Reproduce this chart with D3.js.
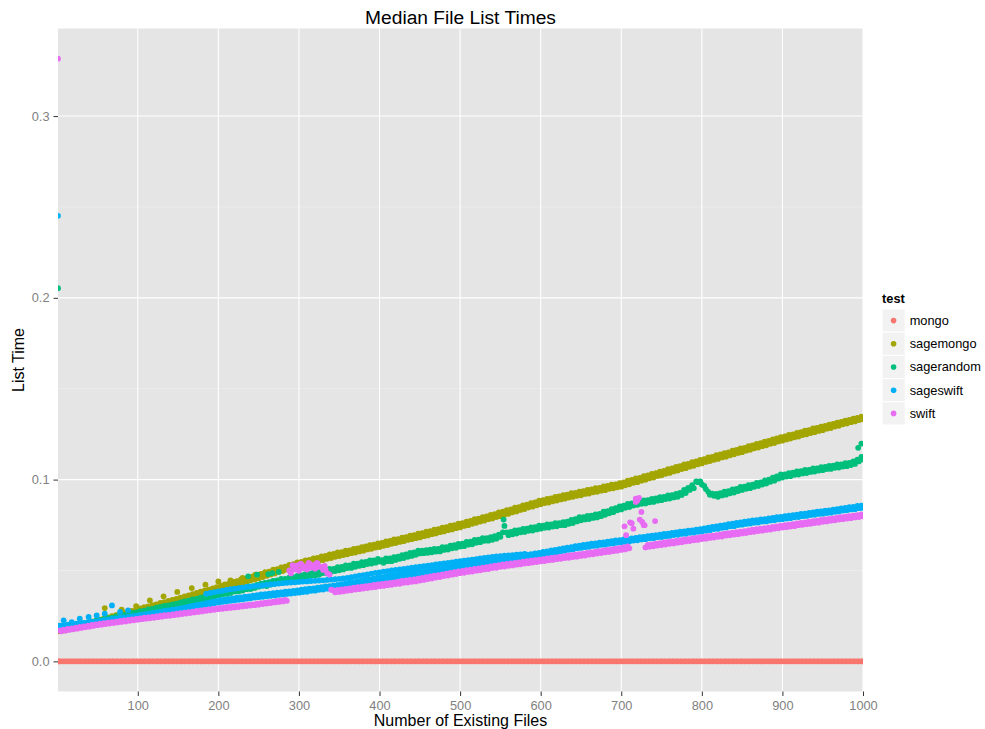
<!DOCTYPE html>
<html>
<head>
<meta charset="utf-8">
<script src="https://cdn.jsdelivr.net/npm/d3@7"></script>
<style>
  body { margin: 0; background: #ffffff; }
  svg { display: block; font-family: "Liberation Sans", Arial, Helvetica, sans-serif; }
</style>
</head>
<body>
<svg id="chart" width="985" height="729"></svg>
<script>
// Number of existing files at which the listing time was measured
const fileCounts = [1,
  5,10,15,20,25,30,35,40,45,50, 55,60,65,70,75,80,85,90,95,100,
  105,110,115,120,125,130,135,140,145,150, 155,160,165,170,175,180,185,190,195,200,
  205,210,215,220,225,230,235,240,245,250, 255,260,265,270,275,280,285,290,295,300,
  305,310,315,320,325,330,335,340,345,350, 355,360,365,370,375,380,385,390,395,400,
  405,410,415,420,425,430,435,440,445,450, 455,460,465,470,475,480,485,490,495,500,
  505,510,515,520,525,530,535,540,545,550, 555,560,565,570,575,580,585,590,595,600,
  605,610,615,620,625,630,635,640,645,650, 655,660,665,670,675,680,685,690,695,700,
  705,710,715,720,725,730,735,740,745,750, 755,760,765,770,775,780,785,790,795,800,
  805,810,815,820,825,830,835,840,845,850, 855,860,865,870,875,880,885,890,895,900,
  905,910,915,920,925,930,935,940,945,950, 955,960,965,970,975,980,985,990,995,1000];

// In-between file counts measured in a second pass
const midFileCounts = [
  3,8,13,18,23,28,33,38,43,48, 53,58,63,68,73,78,83,88,93,98,
  103,108,113,118,123,128,133,138,143,148, 153,158,163,168,173,178,183,188,193,198,
  203,208,213,218,223,228,233,238,243,248, 253,258,263,268,273,278,283,288,293,298,
  303,308,313,318,323,328,333,338,343,348, 353,358,363,368,373,378,383,388,393,398,
  403,408,413,418,423,428,433,438,443,448, 453,458,463,468,473,478,483,488,493,498,
  503,508,513,518,523,528,533,538,543,548, 553,558,563,568,573,578,583,588,593,598,
  603,608,613,618,623,628,633,638,643,648, 653,658,663,668,673,678,683,688,693,698,
  703,708,713,718,723,728,733,738,743,748, 753,758,763,768,773,778,783,788,793,798,
  803,808,813,818,823,828,833,838,843,848, 853,858,863,868,873,878,883,888,893,898,
  903,908,913,918,923,928,933,938,943,948, 953,958,963,968,973,978,983,988,993,998];

// Median list time (seconds) per test at fileCounts
const mongoTimes = [0,
  0,0,0,0,0,0,0,0,0,0, 0,0,0,0,0,0,0,0,0,0, 0,0,0,0,0,0,0,0,0,0, 0,0,0,0,0,0,0,0,0,0,
  0,0,0,0,0,0,0,0,0,0, 0,0,0,0,0,0,0,0,0,0, 0,0,0,0,0,0,0,0,0,0, 0,0,0,0,0,0,0,0,0,0,
  0,0,0,0,0,0,0,0,0,0, 0,0,0,0,0,0,0,0,0,0, 0,0,0,0,0,0,0,0,0,0, 0,0,0,0,0,0,0,0,0,0,
  0,0,0,0,0,0,0,0,0,0, 0,0,0,0,0,0,0,0,0,0, 0,0,0,0,0,0,0,0,0,0, 0,0,0,0,0,0,0,0,0,0,
  0,0,0,0,0,0,0,0,0,0, 0,0,0,0,0,0,0,0,0,0, 0,0,0,0,0,0,0,0,0,0, 0,0,0,0,0,0,0,0,0,0];

const sagemongoTimes = [0.0165,
  0.0166,0.0171,0.0178,0.0183,0.0189,0.0193,0.0201,0.0205,0.0212,0.0218,
  0.0222,0.0230,0.0234,0.0241,0.0247,0.0253,0.0258,0.0266,0.0270,0.0277,
  0.0281,0.0288,0.0293,0.0299,0.0304,0.0311,0.0316,0.0323,0.0328,0.0334,
  0.0337,0.0344,0.0350,0.0356,0.0361,0.0369,0.0375,0.0382,0.0388,0.0394,
  0.0398,0.0406,0.0411,0.0418,0.0425,0.0432,0.0437,0.0446,0.0451,0.0457,
  0.0464,0.0471,0.0478,0.0484,0.0492,0.0497,0.0505,0.0511,0.0519,0.0524,
  0.0531,0.0535,0.0542,0.0546,0.0553,0.0557,0.0564,0.0568,0.0575,0.0579,
  0.0585,0.0589,0.0595,0.0599,0.0605,0.0609,0.0616,0.0619,0.0626,0.0629,
  0.0636,0.0640,0.0647,0.0651,0.0657,0.0661,0.0668,0.0672,0.0678,0.0682,
  0.0689,0.0693,0.0700,0.0704,0.0711,0.0715,0.0722,0.0726,0.0733,0.0737,
  0.0745,0.0749,0.0757,0.0762,0.0769,0.0774,0.0782,0.0786,0.0794,0.0799,
  0.0807,0.0812,0.0820,0.0825,0.0833,0.0838,0.0846,0.0851,0.0859,0.0864,
  0.0871,0.0874,0.0881,0.0885,0.0891,0.0895,0.0901,0.0905,0.0911,0.0914,
  0.0921,0.0923,0.0930,0.0933,0.0939,0.0942,0.0949,0.0952,0.0958,0.0961,
  0.0969,0.0974,0.0982,0.0986,0.0994,0.0999,0.1007,0.1011,0.1020,0.1024,
  0.1032,0.1037,0.1045,0.1050,0.1058,0.1063,0.1071,0.1076,0.1084,0.1089,
  0.1097,0.1102,0.1109,0.1114,0.1122,0.1126,0.1134,0.1139,0.1147,0.1151,
  0.1159,0.1164,0.1172,0.1176,0.1184,0.1189,0.1197,0.1201,0.1210,0.1214,
  0.1221,0.1226,0.1233,0.1237,0.1245,0.1249,0.1256,0.1261,0.1268,0.1272,
  0.1280,0.1284,0.1292,0.1296,0.1304,0.1308,0.1316,0.1320,0.1328,0.1332];

const sagerandomTimes = [0.2053,
  0.0176,0.0182,0.0184,0.0191,0.0193,0.0199,0.0203,0.0207,0.0212,0.0216,
  0.0222,0.0225,0.0232,0.0234,0.0241,0.0245,0.0250,0.0254,0.0260,0.0264,
  0.0268,0.0271,0.0278,0.0281,0.0287,0.0291,0.0297,0.0300,0.0306,0.0310,
  0.0314,0.0320,0.0324,0.0331,0.0334,0.0341,0.0346,0.0351,0.0358,0.0364,
  0.0369,0.0371,0.0376,0.0384,0.0385,0.0390,0.0397,0.0398,0.0404,0.0411,
  0.0416,0.0414,0.0423,0.0428,0.0430,0.0436,0.0444,0.0442,0.0450,0.0457,
  0.0460,0.0462,0.0471,0.0472,0.0477,0.0486,0.0484,0.0493,0.0497,0.0501,
  0.0506,0.0513,0.0514,0.0520,0.0526,0.0529,0.0535,0.0538,0.0543,0.0549,
  0.0542,0.0551,0.0551,0.0558,0.0564,0.0568,0.0575,0.0580,0.0586,0.0594,
  0.0595,0.0597,0.0600,0.0604,0.0605,0.0613,0.0615,0.0622,0.0625,0.0632,
  0.0634,0.0642,0.0644,0.0653,0.0656,0.0663,0.0664,0.0669,0.0675,0.0685,
  0.0745,0.0694,0.0699,0.0703,0.0710,0.0712,0.0718,0.0720,0.0726,0.0730,
  0.0735,0.0736,0.0742,0.0743,0.0749,0.0749,0.0757,0.0761,0.0770,0.0776,
  0.0781,0.0783,0.0789,0.0792,0.0799,0.0806,0.0815,0.0821,0.0831,0.0836,
  0.0845,0.0849,0.0857,0.0861,0.0867,0.0869,0.0875,0.0877,0.0884,0.0887,
  0.0893,0.0896,0.0902,0.0905,0.0915,0.0926,0.0943,0.0953,0.0986,0.0973,
  0.0948,0.0916,0.0911,0.0905,0.0913,0.0917,0.0925,0.0929,0.0937,0.0943,
  0.0949,0.0953,0.0960,0.0965,0.0973,0.0978,0.0988,0.0994,0.1005,0.1011,
  0.1017,0.1019,0.1026,0.1028,0.1034,0.1036,0.1042,0.1044,0.1050,0.1052,
  0.1058,0.1059,0.1065,0.1066,0.1072,0.1074,0.1080,0.1086,0.1101,0.1111];

const sageswiftTimes = [0.2451,
  0.0192,0.0194,0.0197,0.0199,0.0202,0.0204,0.0207,0.0209,0.0212,0.0215,
  0.0218,0.0221,0.0225,0.0228,0.0231,0.0234,0.0237,0.0240,0.0244,0.0247,
  0.0251,0.0254,0.0258,0.0261,0.0265,0.0268,0.0272,0.0275,0.0279,0.0282,
  0.0286,0.0290,0.0295,0.0299,0.0304,0.0307,0.0312,0.0315,0.0320,0.0323,
  0.0327,0.0329,0.0333,0.0335,0.0339,0.0341,0.0345,0.0347,0.0351,0.0353,
  0.0355,0.0358,0.0361,0.0362,0.0366,0.0368,0.0371,0.0373,0.0376,0.0378,
  0.0381,0.0383,0.0388,0.0389,0.0394,0.0395,0.0400,0.0401,0.0406,0.0407,
  0.0412,0.0415,0.0421,0.0423,0.0429,0.0431,0.0437,0.0439,0.0445,0.0447,
  0.0451,0.0454,0.0459,0.0461,0.0466,0.0468,0.0473,0.0475,0.0480,0.0482,
  0.0486,0.0488,0.0493,0.0494,0.0499,0.0500,0.0505,0.0506,0.0511,0.0512,
  0.0516,0.0519,0.0524,0.0526,0.0531,0.0533,0.0538,0.0540,0.0545,0.0547,
  0.0552,0.0554,0.0560,0.0562,0.0567,0.0569,0.0575,0.0577,0.0582,0.0584,
  0.0589,0.0592,0.0598,0.0600,0.0606,0.0608,0.0614,0.0616,0.0622,0.0624,
  0.0628,0.0630,0.0635,0.0636,0.0641,0.0642,0.0647,0.0648,0.0653,0.0654,
  0.0658,0.0660,0.0665,0.0666,0.0671,0.0672,0.0677,0.0678,0.0683,0.0684,
  0.0688,0.0690,0.0695,0.0696,0.0701,0.0702,0.0707,0.0708,0.0713,0.0714,
  0.0719,0.0722,0.0728,0.0729,0.0735,0.0737,0.0743,0.0744,0.0750,0.0752,
  0.0756,0.0758,0.0763,0.0764,0.0769,0.0770,0.0775,0.0776,0.0781,0.0782,
  0.0786,0.0788,0.0793,0.0794,0.0799,0.0800,0.0805,0.0806,0.0811,0.0812,
  0.0816,0.0818,0.0823,0.0824,0.0830,0.0831,0.0836,0.0837,0.0843,0.0844];

const swiftTimes = [0.3316,
  0.0165,0.0169,0.0173,0.0176,0.0180,0.0184,0.0188,0.0191,0.0195,0.0199,
  0.0202,0.0205,0.0208,0.0211,0.0214,0.0217,0.0220,0.0223,0.0226,0.0229,
  0.0232,0.0235,0.0237,0.0240,0.0243,0.0246,0.0249,0.0251,0.0254,0.0257,
  0.0260,0.0263,0.0266,0.0269,0.0272,0.0275,0.0278,0.0281,0.0284,0.0287,
  0.0289,0.0292,0.0294,0.0297,0.0299,0.0302,0.0304,0.0307,0.0309,0.0312,
  0.0315,0.0318,0.0321,0.0324,0.0327,0.0330,0.0333,0.0484,0.0505,0.0498,
  0.0512,0.0505,0.0516,0.0510,0.0520,0.0503,0.0486,0.0394,0.0380,0.0382,
  0.0385,0.0389,0.0391,0.0395,0.0397,0.0401,0.0403,0.0407,0.0409,0.0413,
  0.0415,0.0419,0.0421,0.0425,0.0427,0.0432,0.0434,0.0438,0.0440,0.0445,
  0.0448,0.0453,0.0456,0.0461,0.0464,0.0469,0.0472,0.0477,0.0480,0.0485,
  0.0487,0.0492,0.0494,0.0499,0.0501,0.0506,0.0508,0.0513,0.0515,0.0520,
  0.0522,0.0526,0.0528,0.0532,0.0534,0.0538,0.0540,0.0544,0.0546,0.0550,
  0.0552,0.0556,0.0558,0.0562,0.0564,0.0568,0.0570,0.0574,0.0576,0.0580,
  0.0582,0.0587,0.0589,0.0593,0.0596,0.0600,0.0602,0.0606,0.0609,0.0613,
  0.0616,0.0622,0.0730,0.0885,0.0822,0.0627,0.0631,0.0633,0.0637,0.0640,
  0.0643,0.0647,0.0649,0.0653,0.0656,0.0660,0.0662,0.0666,0.0668,0.0673,
  0.0675,0.0679,0.0681,0.0685,0.0687,0.0692,0.0694,0.0698,0.0700,0.0704,
  0.0706,0.0711,0.0713,0.0717,0.0719,0.0723,0.0725,0.0730,0.0732,0.0736,
  0.0738,0.0742,0.0744,0.0749,0.0751,0.0755,0.0757,0.0761,0.0763,0.0768,
  0.0770,0.0774,0.0776,0.0780,0.0782,0.0786,0.0788,0.0792,0.0794,0.0798];

// Median list time (seconds) per test at midFileCounts
const mongoMidTimes = [
  0,0,0,0,0,0,0,0,0,0, 0,0,0,0,0,0,0,0,0,0, 0,0,0,0,0,0,0,0,0,0, 0,0,0,0,0,0,0,0,0,0,
  0,0,0,0,0,0,0,0,0,0, 0,0,0,0,0,0,0,0,0,0, 0,0,0,0,0,0,0,0,0,0, 0,0,0,0,0,0,0,0,0,0,
  0,0,0,0,0,0,0,0,0,0, 0,0,0,0,0,0,0,0,0,0, 0,0,0,0,0,0,0,0,0,0, 0,0,0,0,0,0,0,0,0,0,
  0,0,0,0,0,0,0,0,0,0, 0,0,0,0,0,0,0,0,0,0, 0,0,0,0,0,0,0,0,0,0, 0,0,0,0,0,0,0,0,0,0,
  0,0,0,0,0,0,0,0,0,0, 0,0,0,0,0,0,0,0,0,0, 0,0,0,0,0,0,0,0,0,0, 0,0,0,0,0,0,0,0,0,0];

const sagemongoMidTimes = [
  0.0172,0.0177,0.0184,0.0188,0.0195,0.0199,0.0206,0.0211,0.0218,0.0224,
  0.0230,0.0237,0.0242,0.0249,0.0254,0.0261,0.0266,0.0273,0.0278,0.0285,
  0.0291,0.0298,0.0302,0.0309,0.0314,0.0321,0.0326,0.0332,0.0338,0.0344,
  0.0351,0.0358,0.0363,0.0370,0.0376,0.0383,0.0389,0.0395,0.0402,0.0408,
  0.0416,0.0424,0.0428,0.0438,0.0441,0.0451,0.0455,0.0464,0.0468,0.0477,
  0.0481,0.0491,0.0494,0.0504,0.0508,0.0517,0.0521,0.0531,0.0535,0.0544,
  0.0547,0.0555,0.0558,0.0566,0.0569,0.0577,0.0580,0.0588,0.0591,0.0599,
  0.0601,0.0609,0.0611,0.0619,0.0621,0.0629,0.0632,0.0639,0.0642,0.0649,
  0.0652,0.0660,0.0663,0.0671,0.0673,0.0681,0.0684,0.0692,0.0694,0.0702,
  0.0705,0.0713,0.0716,0.0724,0.0727,0.0735,0.0738,0.0746,0.0749,0.0757,
  0.0761,0.0769,0.0773,0.0782,0.0785,0.0794,0.0798,0.0806,0.0810,0.0819,
  0.0823,0.0832,0.0836,0.0845,0.0849,0.0858,0.0862,0.0871,0.0875,0.0884,
  0.0887,0.0894,0.0897,0.0905,0.0907,0.0915,0.0917,0.0925,0.0927,0.0934,
  0.0937,0.0943,0.0946,0.0953,0.0955,0.0962,0.0965,0.0972,0.0974,0.0981,
  0.0985,0.0994,0.0998,0.1006,0.1010,0.1019,0.1023,0.1031,0.1036,0.1044,
  0.1048,0.1057,0.1061,0.1070,0.1074,0.1083,0.1087,0.1096,0.1100,0.1109,
  0.1113,0.1122,0.1125,0.1134,0.1138,0.1146,0.1150,0.1159,0.1163,0.1171,
  0.1175,0.1184,0.1188,0.1196,0.1200,0.1209,0.1213,0.1221,0.1226,0.1234,
  0.1237,0.1246,0.1249,0.1257,0.1261,0.1269,0.1272,0.1281,0.1284,0.1292,
  0.1295,0.1302,0.1306,0.1313,0.1317,0.1324,0.1328,0.1335,0.1339,0.1346];

const sagerandomMidTimes = [
  0.0182,0.0188,0.0190,0.0197,0.0199,0.0205,0.0209,0.0213,0.0218,0.0222,
  0.0228,0.0231,0.0238,0.0240,0.0247,0.0251,0.0256,0.0260,0.0266,0.0270,
  0.0276,0.0279,0.0286,0.0289,0.0295,0.0299,0.0305,0.0308,0.0314,0.0318,
  0.0324,0.0330,0.0334,0.0341,0.0344,0.0351,0.0356,0.0361,0.0368,0.0374,
  0.0377,0.0385,0.0386,0.0394,0.0396,0.0404,0.0405,0.0413,0.0414,0.0421,
  0.0427,0.0432,0.0436,0.0442,0.0446,0.0453,0.0454,0.0461,0.0463,0.0470,
  0.0474,0.0480,0.0482,0.0490,0.0490,0.0500,0.0499,0.0509,0.0509,0.0518,
  0.0520,0.0528,0.0528,0.0538,0.0537,0.0546,0.0547,0.0555,0.0556,0.0564,
  0.0557,0.0566,0.0566,0.0574,0.0576,0.0585,0.0588,0.0597,0.0600,0.0609,
  0.0609,0.0612,0.0614,0.0619,0.0619,0.0628,0.0629,0.0637,0.0639,0.0646,
  0.0648,0.0657,0.0658,0.0668,0.0670,0.0678,0.0678,0.0684,0.0689,0.0697,
  0.0710,0.0710,0.0712,0.0720,0.0722,0.0729,0.0730,0.0737,0.0738,0.0746,
  0.0747,0.0753,0.0754,0.0760,0.0761,0.0766,0.0769,0.0778,0.0782,0.0793,
  0.0793,0.0800,0.0801,0.0809,0.0811,0.0823,0.0827,0.0838,0.0843,0.0853,
  0.0857,0.0866,0.0869,0.0878,0.0879,0.0886,0.0887,0.0894,0.0896,0.0904,
  0.0905,0.0913,0.0914,0.0922,0.0927,0.0943,0.0955,0.0970,0.0990,0.0990,
  0.0965,0.0933,0.0923,0.0922,0.0925,0.0934,0.0937,0.0946,0.0949,0.0960,
  0.0961,0.0970,0.0972,0.0982,0.0985,0.0995,0.1000,0.1011,0.1017,0.1028,
  0.1029,0.1036,0.1038,0.1045,0.1046,0.1053,0.1054,0.1061,0.1062,0.1069,
  0.1070,0.1076,0.1077,0.1083,0.1084,0.1091,0.1092,0.1100,0.1110,0.1125];

const sageswiftMidTimes = [
  0.0197,0.0199,0.0202,0.0204,0.0207,0.0209,0.0212,0.0214,0.0217,0.0220,
  0.0223,0.0226,0.0230,0.0233,0.0236,0.0239,0.0242,0.0245,0.0249,0.0252,
  0.0256,0.0259,0.0263,0.0266,0.0270,0.0273,0.0277,0.0280,0.0284,0.0287,
  0.0292,0.0296,0.0301,0.0305,0.0310,0.0314,0.0319,0.0323,0.0328,0.0332,
  0.0338,0.0340,0.0344,0.0346,0.0350,0.0352,0.0356,0.0358,0.0362,0.0364,
  0.0368,0.0370,0.0373,0.0375,0.0378,0.0380,0.0383,0.0385,0.0388,0.0390,
  0.0394,0.0397,0.0400,0.0402,0.0406,0.0408,0.0412,0.0414,0.0418,0.0420,
  0.0425,0.0428,0.0433,0.0436,0.0441,0.0444,0.0449,0.0452,0.0457,0.0460,
  0.0464,0.0467,0.0471,0.0474,0.0478,0.0481,0.0485,0.0488,0.0492,0.0495,
  0.0499,0.0501,0.0505,0.0507,0.0511,0.0513,0.0517,0.0519,0.0523,0.0525,
  0.0529,0.0532,0.0536,0.0539,0.0543,0.0546,0.0550,0.0553,0.0557,0.0560,
  0.0565,0.0567,0.0572,0.0575,0.0579,0.0582,0.0587,0.0590,0.0594,0.0597,
  0.0602,0.0605,0.0610,0.0613,0.0618,0.0621,0.0626,0.0629,0.0634,0.0637,
  0.0641,0.0643,0.0647,0.0649,0.0653,0.0655,0.0659,0.0661,0.0665,0.0667,
  0.0671,0.0673,0.0677,0.0679,0.0683,0.0685,0.0689,0.0691,0.0695,0.0697,
  0.0701,0.0703,0.0707,0.0709,0.0713,0.0715,0.0719,0.0721,0.0725,0.0727,
  0.0732,0.0735,0.0740,0.0742,0.0747,0.0750,0.0755,0.0757,0.0762,0.0765,
  0.0769,0.0771,0.0775,0.0777,0.0781,0.0783,0.0787,0.0789,0.0793,0.0795,
  0.0799,0.0801,0.0805,0.0807,0.0811,0.0813,0.0817,0.0819,0.0823,0.0825,
  0.0829,0.0831,0.0835,0.0837,0.0842,0.0844,0.0848,0.0850,0.0855,0.0857];

const swiftMidTimes = [
  0.0170,0.0174,0.0178,0.0181,0.0185,0.0189,0.0193,0.0196,0.0200,0.0204,
  0.0207,0.0210,0.0213,0.0216,0.0219,0.0222,0.0225,0.0228,0.0231,0.0234,
  0.0237,0.0240,0.0242,0.0245,0.0248,0.0251,0.0254,0.0256,0.0259,0.0262,
  0.0265,0.0268,0.0271,0.0274,0.0277,0.0280,0.0283,0.0286,0.0289,0.0292,
  0.0294,0.0297,0.0299,0.0302,0.0304,0.0307,0.0309,0.0312,0.0314,0.0317,
  0.0320,0.0323,0.0326,0.0329,0.0332,0.0335,0.0338,0.0500,0.0525,0.0528,
  0.0535,0.0522,0.0538,0.0530,0.0540,0.0520,0.0505,0.0478,0.0391,0.0393,
  0.0396,0.0399,0.0402,0.0405,0.0408,0.0411,0.0414,0.0417,0.0420,0.0423,
  0.0426,0.0429,0.0432,0.0435,0.0438,0.0442,0.0445,0.0448,0.0451,0.0455,
  0.0459,0.0463,0.0467,0.0471,0.0475,0.0479,0.0483,0.0487,0.0491,0.0495,
  0.0498,0.0502,0.0505,0.0509,0.0512,0.0516,0.0519,0.0523,0.0526,0.0530,
  0.0533,0.0536,0.0539,0.0542,0.0545,0.0548,0.0551,0.0554,0.0557,0.0560,
  0.0563,0.0566,0.0569,0.0572,0.0575,0.0578,0.0581,0.0584,0.0587,0.0590,
  0.0593,0.0597,0.0600,0.0603,0.0607,0.0610,0.0613,0.0616,0.0620,0.0623,
  0.0627,0.0632,0.0760,0.0895,0.0780,0.0749,0.0641,0.0644,0.0647,0.0651,
  0.0654,0.0657,0.0660,0.0663,0.0667,0.0670,0.0673,0.0676,0.0679,0.0683,
  0.0686,0.0689,0.0692,0.0695,0.0698,0.0702,0.0705,0.0708,0.0711,0.0714,
  0.0717,0.0721,0.0724,0.0727,0.0730,0.0733,0.0736,0.0740,0.0743,0.0746,
  0.0749,0.0752,0.0755,0.0759,0.0762,0.0765,0.0768,0.0771,0.0774,0.0778,
  0.0781,0.0784,0.0787,0.0790,0.0793,0.0796,0.0799,0.0802,0.0805,0.0808];

// Runs that sit off the main trend of each test
const sagemongoExtraFiles = [59, 80, 98, 115, 132, 149, 167, 184, 200, 215, 230, 246];
const sagemongoExtraTimes = [0.0293, 0.0284, 0.0304, 0.0336, 0.0358, 0.0382, 0.0403, 0.0422, 0.0440, 0.0446, 0.0459, 0.0477];

const sagerandomExtraFiles = [237, 248, 262, 267, 275, 554, 994, 998];
const sagerandomExtraTimes = [0.0468, 0.0477, 0.0480, 0.0486, 0.0492, 0.0780, 0.1175, 0.1198];

const sageswiftExtraFiles = [8, 18, 28, 39, 49, 59, 68, 78, 88,
  185,190,195,200,205,210,215,220,225,230, 235,240,245,250,255,260,265,270,275,280,
  285,290,295,300,305,310,315,320,325,330, 335,340,345,350,355,360,365,370,375,380,
  385,390,395,400,405,410,415,420,425,430, 435,440,445,450,455,460,465,470,475,480,
  485,490,495,500,505,510,515,520,525,530, 535,540,545,550,555,560,565,570,575,580];
const sageswiftExtraTimes = [0.0226, 0.0216, 0.0235, 0.0244, 0.0253, 0.0262, 0.0308, 0.0272, 0.0281,
  0.0372,0.0376,0.0381,0.0385,0.0389,0.0393,0.0397,0.0400,0.0403,0.0406,
  0.0409,0.0411,0.0414,0.0416,0.0418,0.0421,0.0423,0.0425,0.0428,0.0430,
  0.0432,0.0434,0.0435,0.0437,0.0439,0.0440,0.0442,0.0443,0.0445,0.0446,
  0.0448,0.0450,0.0452,0.0454,0.0456,0.0459,0.0463,0.0467,0.0471,0.0475,
  0.0479,0.0483,0.0487,0.0490,0.0494,0.0497,0.0500,0.0503,0.0506,0.0509,
  0.0512,0.0515,0.0518,0.0521,0.0524,0.0527,0.0530,0.0533,0.0536,0.0539,
  0.0542,0.0545,0.0548,0.0551,0.0554,0.0557,0.0560,0.0563,0.0566,0.0569,
  0.0572,0.0575,0.0577,0.0579,0.0581,0.0583,0.0585,0.0587,0.0589,0.0591];

const swiftExtraFiles = [292, 302, 312, 322, 332, 704, 706, 711, 718, 722, 726, 729, 742];
const swiftExtraTimes = [0.0530, 0.0538, 0.0542, 0.0540, 0.0525, 0.0743, 0.0694, 0.0765, 0.0877, 0.0900, 0.0767, 0.0749, 0.0772];

const testNames = ["mongo", "sagemongo", "sagerandom", "sageswift", "swift"];
const testColors = ["#F8766D", "#A3A500", "#00BF7D", "#00B0F6", "#E76BF3"];
const xTicks = [100, 200, 300, 400, 500, 600, 700, 800, 900, 1000];
const yTicks = [0.0, 0.1, 0.2, 0.3];
const yMinorTicks = [0.05, 0.15, 0.25];

const chartTitle = "Median File List Times";
const xTitle = "Number of Existing Files";
const yTitle = "List Time";
const legendTitle = "test";

// ---- assemble per-test point lists ----
const mainTimes = [mongoTimes, sagemongoTimes, sagerandomTimes, sageswiftTimes, swiftTimes];
const midTimes = [mongoMidTimes, sagemongoMidTimes, sagerandomMidTimes, sageswiftMidTimes, swiftMidTimes];
const extras = [
  [[], []],
  [sagemongoExtraFiles, sagemongoExtraTimes],
  [sagerandomExtraFiles, sagerandomExtraTimes],
  [sageswiftExtraFiles, sageswiftExtraTimes],
  [swiftExtraFiles, swiftExtraTimes]
];
const series = testNames.map((name, i) => {
  const pts = fileCounts.map((f, j) => ({ files: f, time: mainTimes[i][j] }));
  midFileCounts.forEach((f, j) => pts.push({ files: f, time: midTimes[i][j] }));
  extras[i][0].forEach((f, j) => pts.push({ files: f, time: extras[i][1][j] }));
  pts.sort((a, b) => a.files - b.files);
  return { name, color: testColors[i], points: pts };
});

// ---- layout ----
const svg = d3.select("#chart");
const panel = { left: 58, right: 863, top: 28.5, bottom: 691.5 };

const allTimes = series.flatMap(s => s.points.map(p => p.time));
const tMin = d3.min(allTimes), tMax = d3.max(allTimes);
const pad = (tMax - tMin) * 0.05;

const x = d3.scaleLinear().domain([1, 1000]).range([panel.left, panel.right]);
const y = d3.scaleLinear().domain([tMin - pad, tMax + pad]).range([panel.bottom, panel.top]);

// panel background
svg.append("rect")
  .attr("x", panel.left).attr("y", panel.top)
  .attr("width", panel.right - panel.left).attr("height", panel.bottom - panel.top)
  .attr("fill", "#E5E5E5");

// grid lines
const grid = svg.append("g");
grid.selectAll("line.ymin").data(yMinorTicks).join("line")
  .attr("x1", panel.left).attr("x2", panel.right)
  .attr("y1", d => y(d)).attr("y2", d => y(d))
  .attr("stroke", "#F2F2F2").attr("stroke-width", 0.6);
grid.selectAll("line.ymaj").data(yTicks).join("line")
  .attr("x1", panel.left).attr("x2", panel.right)
  .attr("y1", d => y(d)).attr("y2", d => y(d))
  .attr("stroke", "#FFFFFF").attr("stroke-width", 1.1);
grid.selectAll("line.xmaj").data(xTicks).join("line")
  .attr("y1", panel.top).attr("y2", panel.bottom)
  .attr("x1", d => x(d)).attr("x2", d => x(d))
  .attr("stroke", "#FFFFFF").attr("stroke-width", 1.1);

// clipped point layer
svg.append("defs").append("clipPath").attr("id", "panel-clip")
  .append("rect")
  .attr("x", panel.left).attr("y", panel.top)
  .attr("width", panel.right - panel.left).attr("height", panel.bottom - panel.top);

const pointsLayer = svg.append("g").attr("clip-path", "url(#panel-clip)");
series.forEach(s => {
  pointsLayer.append("g").selectAll("circle").data(s.points).join("circle")
    .attr("cx", d => x(d.files))
    .attr("cy", d => y(d.time))
    .attr("r", 2.9)
    .attr("fill", s.color);
});

// axes
const axisColor = "#333333";
const tickTextColor = "#7F7F7F";

const xAxis = svg.append("g")
  .attr("transform", `translate(0,${panel.bottom})`)
  .call(d3.axisBottom(x).tickValues(xTicks).tickSize(4.5).tickPadding(4).tickFormat(d3.format("d")));
const yAxis = svg.append("g")
  .attr("transform", `translate(${panel.left},0)`)
  .call(d3.axisLeft(y).tickValues(yTicks).tickSize(4.5).tickPadding(4).tickFormat(d3.format(".1f")));

[xAxis, yAxis].forEach(a => {
  a.select(".domain").remove();
  a.selectAll(".tick line").attr("stroke", axisColor).attr("stroke-width", 1);
  a.selectAll(".tick text")
    .attr("fill", tickTextColor)
    .style("font-size", "12.8px")
    .style("font-family", "'Liberation Sans', Arial, sans-serif");
});
xAxis.selectAll(".tick text").attr("dy", "0.71em").attr("y", 9);
yAxis.selectAll(".tick text").attr("x", -8.5);

// titles
const mid = (panel.left + panel.right) / 2;
svg.append("text")
  .attr("x", mid).attr("y", 24)
  .attr("text-anchor", "middle")
  .style("font-size", "19.2px")
  .attr("fill", "#000")
  .text(chartTitle);

svg.append("text")
  .attr("x", mid).attr("y", 726)
  .attr("text-anchor", "middle")
  .style("font-size", "16px")
  .attr("fill", "#000")
  .text(xTitle);

svg.append("text")
  .attr("transform", `translate(23.5,${(panel.top + panel.bottom) / 2}) rotate(-90)`)
  .attr("text-anchor", "middle")
  .style("font-size", "16px")
  .attr("fill", "#000")
  .text(yTitle);

// legend
const legend = svg.append("g").attr("transform", "translate(882,0)");
legend.append("text")
  .attr("x", 0).attr("y", 302.5)
  .style("font-size", "12.8px")
  .style("font-weight", "bold")
  .attr("fill", "#000")
  .text(legendTitle);

const keySize = 23.2;
const keyTop = 309;
const rows = legend.selectAll("g.key").data(series).join("g")
  .attr("transform", (d, i) => `translate(0,${keyTop + i * keySize})`);
rows.append("rect")
  .attr("width", keySize).attr("height", keySize)
  .attr("fill", "#F2F2F2").attr("stroke", "#FFFFFF").attr("stroke-width", 1);
rows.append("circle")
  .attr("cx", keySize / 2).attr("cy", keySize / 2)
  .attr("r", 2.8)
  .attr("fill", d => d.color);
rows.append("text")
  .attr("x", keySize + 4.5).attr("y", keySize / 2)
  .attr("dy", "0.35em")
  .style("font-size", "12.8px")
  .attr("fill", "#000")
  .text(d => d.name);
</script>
</body>
</html>
